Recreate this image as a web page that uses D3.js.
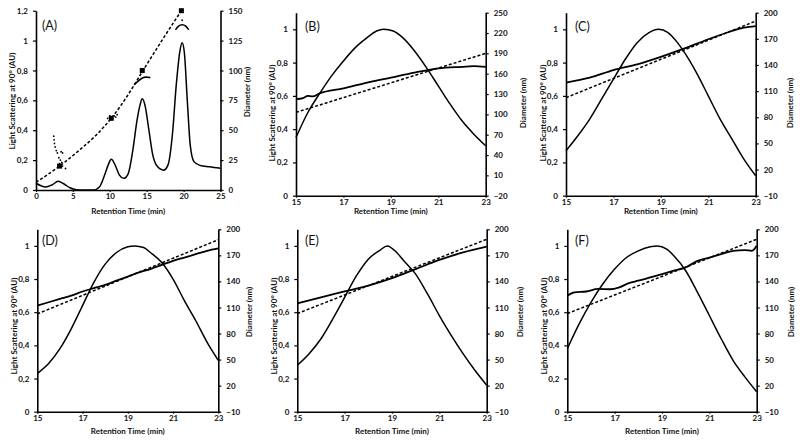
<!DOCTYPE html>
<html><head><meta charset="utf-8">
<script src="https://cdn.jsdelivr.net/npm/d3@7"></script>
<style>
body{margin:0;background:#fff;}
svg text{font-family:Lato,"Open Sans",sans-serif;font-weight:700;fill:#111;}
</style></head>
<body><svg id="c" width="800" height="443"></svg>
<script>
// ---------- tick labels ----------
const lsTicksA = [0,0.2,0.4,0.6,0.8,1,1.2];
const lsTicks = [0,0.2,0.4,0.6,0.8,1];
const diamTicksA = [0,25,50,75,100,125,150];
const diamTicksB = [-20,10,40,70,100,130,160,190,220,250];
const diamTicksCF = [-10,20,50,80,110,140,170,200];
const timeTicksA = [0,5,10,15,20,25];
const timeTicks = [15,17,19,21,23];

// ---------- Panel A ----------
const lsA = [[0,0.045],[0.6,0.03],[1.3,0.02],[2.2,0.035],[3,0.058],[3.8,0.04],[4.6,0.015],[5.5,0.002],[6.5,0],[7.8,0],[8.6,0.02],[9.3,0.1],[9.8,0.17],[10.2,0.205],[10.7,0.17],[11.3,0.1],[11.9,0.078],[12.5,0.11],[13.1,0.26],[13.7,0.47],[14.1,0.57],[14.4,0.61],[14.8,0.56],[15.3,0.4],[15.8,0.24],[16.4,0.16],[17.3,0.133],[17.9,0.17],[18.5,0.38],[19,0.7],[19.5,0.93],[19.8,0.985],[20.1,0.92],[20.5,0.6],[20.9,0.3],[21.4,0.19],[22.2,0.165],[23.5,0.155],[25,0.145]];
const diamFitA = [[0,6.5],[3.2,20],[6,34],[8,45],[10.2,60],[12.3,78],[14.4,99],[17,124.5],[19.7,150]];
const diamMeanA = [[3.2,20],[10.2,60],[14.4,100],[19.7,150]];
const diamDotsA = [[2.4,45],[2.45,42],[2.5,39],[2.6,36],[2.75,33],[2.9,31],[3.4,32],[3.6,31],[3.1,27],[3.3,25],[3.5,23],[3.2,22],[3.6,20],[3.0,19],[4.0,18],[9.7,60],[10.0,62],[10.6,62],[11.0,63],[10.8,61],[19.8,142]];
const diamArcA1 = [[13.3,88],[13.8,91],[14.3,93.5],[14.8,94.8],[15.5,94]];
const diamArcA2 = [[18.9,134],[19.3,137.5],[19.8,138.6],[20.3,137.5],[20.7,134]];

// ---------- Panels B-F: light scattering (bell) ----------
const lsB = [[15,0.35],[15.5,0.5],[16,0.615],[16.5,0.72],[17,0.81],[17.5,0.89],[18,0.95],[18.4,0.99],[18.7,1],[19.1,0.99],[19.5,0.95],[20,0.87],[20.5,0.77],[21,0.66],[21.5,0.55],[22,0.45],[22.5,0.37],[23,0.3]];
const lsC = [[15,0.27],[15.5,0.36],[16,0.46],[16.5,0.58],[17,0.7],[17.5,0.82],[18,0.92],[18.5,0.98],[18.9,1],[19.3,0.98],[19.7,0.92],[20,0.86],[20.5,0.74],[21,0.6],[21.5,0.46],[22,0.34],[22.5,0.22],[23,0.12]];
const lsD = [[15,0.23],[15.5,0.29],[16,0.38],[16.5,0.5],[17,0.64],[17.5,0.78],[18,0.89],[18.5,0.96],[19,0.995],[19.3,1],[19.7,0.99],[20,0.96],[20.5,0.9],[21,0.8],[21.5,0.67],[22,0.55],[22.5,0.42],[23,0.31]];
const lsE = [[15,0.28],[15.5,0.35],[16,0.44],[16.5,0.56],[17,0.69],[17.5,0.82],[18,0.92],[18.5,0.975],[18.8,1],[19.2,0.96],[19.5,0.91],[20,0.83],[20.5,0.71],[21,0.58],[21.5,0.46],[22,0.35],[22.5,0.25],[23,0.16]];
const lsF = [[15,0.38],[15.5,0.53],[16,0.66],[16.5,0.77],[17,0.86],[17.5,0.93],[18,0.97],[18.5,0.995],[18.8,1],[19.2,0.98],[19.5,0.94],[20,0.85],[20.5,0.72],[21,0.58],[21.5,0.44],[22,0.31],[22.5,0.21],[23,0.12]];

// ---------- Panels B-F: measured diameter (nm) ----------
const diamB = [[15,122.4],[15.3,124],[15.5,127.3],[15.7,126.5],[16,131],[17,138.3],[18,146.9],[19,154.3],[20,161.6],[21,167.8],[22,170.2],[22.5,171.2],[23,170.2]];
const diamC = [[15,119.8],[16,125.5],[17,134.1],[18,140.8],[19,149.4],[20,159],[21,169.5],[22,179],[22.5,182.8],[23,184.7]];
const diamD = [[15,112.2],[15.5,116],[16,119.8],[16.5,123.6],[17,128.4],[17.5,132.2],[18,136],[18.5,140.8],[19,145.6],[19.5,150.4],[20,154.2],[20.5,159],[21,163.7],[21.5,167.5],[22,171.4],[22.5,175.2],[23,178]];
const diamE = [[15,114.7],[16,121.7],[17,128.4],[18,135.1],[19,143.7],[20,154.2],[21,164.7],[22,173.3],[23,180]];
const diamF = [[15,123.6],[15.3,127.4],[15.8,128.4],[16.3,131.3],[16.8,131],[17.2,133.2],[17.6,138],[18,140.8],[18.5,144.6],[19,148.4],[19.5,152.3],[20,156.1],[20.5,163.7],[21,167.5],[21.5,171.4],[22,175.2],[22.5,176.1],[22.8,175.2],[23,181]];

// ---------- Panels B-F: fitted diameter (dashed) ----------
const fitB = [[15,103],[23,190]];
const fitC = [[15,102.6],[23,190.4]];
const fitD = [[15,102.6],[23,188]];
const fitE = [[15,103],[23,188.5]];
const fitF = [[15,103],[23,188.5]];

// ---------- layout ----------
const panels = [
 {lab:"(A)", x0:36, x1:220.5, yb:190, yt:10.7, xd:[0,25], xt:timeTicksA, yl:[0,1.2], ylt:lsTicksA, yr:[0,150], yrt:diamTicksA,
  ls:lsA, fit:diamFitA, diam:null,
  labX:42, labY:30, ltX:12, ltY:101, rtX:247, rtY:92, xtY:213.5},
 {lab:"(B)", x0:296, x1:485.7, yb:195.7, yt:12.7, xd:[15,23], xt:timeTicks, yl:[0,1.1], ylt:lsTicks, yr:[-20,250], yrt:diamTicksB,
  ls:lsB, fit:fitB, diam:diamB, labX:305, labY:31, ltX:272, ltY:113, rtX:523, rtY:103, xtY:214},
 {lab:"(C)", x0:566, x1:755.7, yb:195.7, yt:12.7, xd:[15,23], xt:timeTicks, yl:[0,1.1], ylt:lsTicks, yr:[-10,200], yrt:diamTicksCF,
  ls:lsC, fit:fitC, diam:diamC, labX:575, labY:31, ltX:543, ltY:113, rtX:790, rtY:103, xtY:214},
 {lab:"(D)", x0:37.3, x1:218.3, yb:411.7, yt:229.3, xd:[15,23], xt:timeTicks, yl:[0,1.1], ylt:lsTicks, yr:[-10,200], yrt:diamTicksCF,
  ls:lsD, fit:fitD, diam:diamD, labX:42, labY:245, ltX:14, ltY:326, rtX:249, rtY:312, xtY:434},
 {lab:"(E)", x0:297.3, x1:486.7, yb:411.7, yt:229.3, xd:[15,23], xt:timeTicks, yl:[0,1.1], ylt:lsTicks, yr:[-10,200], yrt:diamTicksCF,
  ls:lsE, fit:fitE, diam:diamE, labX:305, labY:245, ltX:274, ltY:326, rtX:520, rtY:312, xtY:434},
 {lab:"(F)", x0:567.3, x1:756.7, yb:411.7, yt:229.3, xd:[15,23], xt:timeTicks, yl:[0,1.1], ylt:lsTicks, yr:[-10,200], yrt:diamTicksCF,
  ls:lsF, fit:fitF, diam:diamF, labX:575, labY:245, ltX:544, ltY:326, rtX:791, rtY:312, xtY:434}
];

const svg = d3.select("#c");
const fmt = d => String(d).replace(".", ",");

panels.forEach(p => {
  const g = svg.append("g");
  const x = d3.scaleLinear().domain(p.xd).range([p.x0, p.x1]);
  const yL = d3.scaleLinear().domain(p.yl).range([p.yb, p.yt]);
  const yR = d3.scaleLinear().domain(p.yr).range([p.yb, p.yt]);

  const styleAxis = a => {
    a.selectAll("path.domain").attr("stroke","#000").attr("stroke-width",1.6);
    a.selectAll(".tick line").attr("stroke","#000").attr("stroke-width",1.2);
    a.selectAll(".tick text").style("font-size","8px").attr("fill","#111");
  };
  styleAxis(g.append("g").attr("transform",`translate(0,${p.yb})`)
    .call(d3.axisBottom(x).tickValues(p.xt).tickSize(2).tickSizeOuter(0).tickPadding(1.5)));
  styleAxis(g.append("g").attr("transform",`translate(${p.x0},0)`)
    .call(d3.axisLeft(yL).tickValues(p.ylt).tickSize(3).tickSizeOuter(0).tickPadding(5).tickFormat(fmt)));
  styleAxis(g.append("g").attr("transform",`translate(${p.x1},0)`)
    .call(d3.axisRight(yR).tickValues(p.yrt).tickSize(3).tickSizeOuter(0).tickPadding(5)));

  const lineL = d3.line().x(d=>x(d[0])).y(d=>yL(d[1])).curve(d3.curveMonotoneX);
  const lineR = d3.line().x(d=>x(d[0])).y(d=>yR(d[1])).curve(d3.curveMonotoneX);

  // dashed fitted diameter
  g.append("path").datum(p.fit).attr("d", lineR).attr("fill","none")
    .attr("stroke","#000").attr("stroke-width",1.5).attr("stroke-dasharray","3,2");
  // light scattering
  g.append("path").datum(p.ls).attr("d", lineL).attr("fill","none")
    .attr("stroke","#000").attr("stroke-width",1.5);
  // measured diameter
  if (p.diam) {
    g.append("path").datum(p.diam).attr("d", lineR).attr("fill","none")
      .attr("stroke","#000").attr("stroke-width",1.8);
  } else {
    g.selectAll("rect.m").data(diamMeanA).join("rect")
      .attr("x", d=>x(d[0])-2.5).attr("y", d=>yR(d[1])-2.5).attr("width",5).attr("height",5).attr("fill","#000");
    g.selectAll("circle.dt").data(diamDotsA).join("circle")
      .attr("cx", d=>x(d[0])).attr("cy", d=>yR(d[1])).attr("r",0.9).attr("fill","#000");
    [diamArcA1, diamArcA2].forEach(arc => {
      g.append("path").datum(arc).attr("d", d3.line().x(d=>x(d[0])).y(d=>yR(d[1])).curve(d3.curveBasis))
        .attr("fill","none").attr("stroke","#000").attr("stroke-width",1.6);
    });
  }

  // texts
  g.append("text").attr("x",p.labX).attr("y",p.labY).style("font-size","12.5px").style("font-weight","400").text(p.lab);
  g.append("text").attr("x",(p.x0+p.x1)/2).attr("y",p.xtY).attr("text-anchor","middle").style("font-size","8px").text("Retention Time (min)");
  g.append("text").attr("transform",`translate(${p.ltX},${p.ltY}) rotate(-90)`).attr("text-anchor","middle").attr("dy","0.35em").style("font-size","8px").text("Light Scattering at 90° (AU)");
  g.append("text").attr("transform",`translate(${p.rtX},${p.rtY}) rotate(-90)`).attr("text-anchor","middle").attr("dy","0.35em").style("font-size","8px").text("Diameter (nm)");
});
</script></body></html>
